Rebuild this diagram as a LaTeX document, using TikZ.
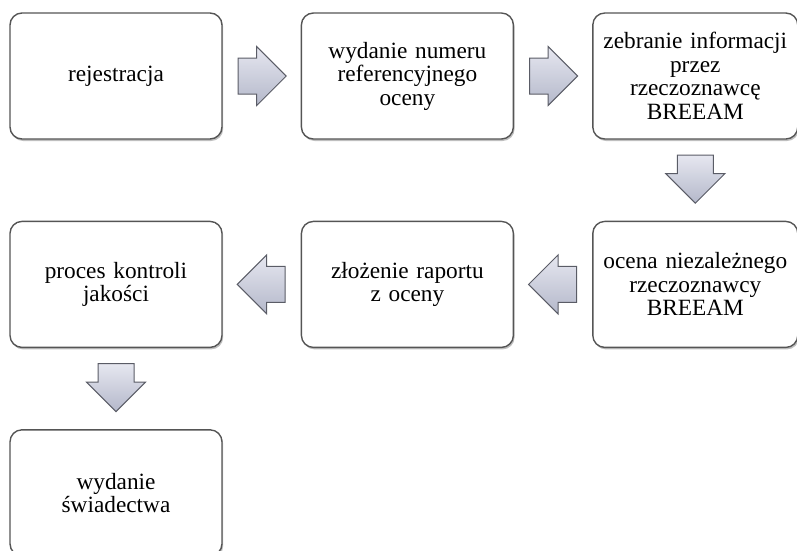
\documentclass[tikz,border=0pt]{standalone}
\usepackage{fontspec}
\setmainfont{Liberation Serif}
\usetikzlibrary{positioning, calc, shapes.arrows, shadows}

\definecolor{boxline}{HTML}{555555}
\definecolor{arrowline}{HTML}{5A5C66}
\definecolor{arrowlight}{HTML}{E6E7F0}
\definecolor{arrowdark}{HTML}{B4B8CA}

\begin{document}
\begin{tikzpicture}[x=1pt, y=-1pt,
    stepbox/.style={draw=boxline, line width=1.4pt, rounded corners=12pt, fill=white,
        minimum width=212pt, minimum height=126pt, text width=205pt, align=center,
        inner sep=0pt, font=\fontsize{23.3}{23.5}\selectfont,
        drop shadow={shadow xshift=1.2pt, shadow yshift=-2pt, opacity=0.5, fill=gray}},
    flowarrow/.style={single arrow, draw=arrowline, line width=1pt,
        top color=arrowlight, bottom color=arrowdark,
        minimum height=48pt, minimum width=58pt, single arrow head extend=11.5pt,
        inner xsep=0pt, inner ysep=17.5pt},
    downarrow/.style={flowarrow, shape border rotate=270, inner xsep=17.5pt, inner ysep=0pt}]
    \useasboundingbox (0,0) rectangle (797,550);
    % top row
    \node[stepbox] (rej) at (116,76) {rejestracja};
    \node[stepbox, right=78pt of rej] (num) {wydanie numeru\\referencyjnego\\oceny};
    \node[stepbox, minimum width=205pt, right=78pt of num] (info) {zebranie informacji\\przez\\rzeczoznawcę\\BREEAM};
    % middle row
    \node[stepbox, minimum width=205pt, below=81pt of info] (ocena) {ocena niezależnego\\rzeczoznawcy\\BREEAM};
    \node[stepbox, left=78pt of ocena] (raport) {złożenie raportu\\z oceny};
    \node[stepbox, left=78pt of raport] (kontrola) {proces kontroli\\jakości};
    % bottom row
    \node[stepbox, below=81pt of kontrola] (swiad) {wydanie\\świadectwa};
    % block arrows, tail 15pt off the box
    \node[flowarrow, right=15pt of rej.east, anchor=tail] (a1) {};
    \node[flowarrow, right=15pt of num.east, anchor=tail] (a2) {};
    \node[downarrow, below=15pt of info.south, anchor=tail] (a3) {};
    \node[flowarrow, shape border rotate=180, left=15pt of ocena.west, anchor=tail] (a4) {};
    \node[flowarrow, shape border rotate=180, left=15pt of raport.west, anchor=tail] (a5) {};
    \node[downarrow, below=15pt of kontrola.south, anchor=tail] (a6) {};
\end{tikzpicture}
\end{document}
